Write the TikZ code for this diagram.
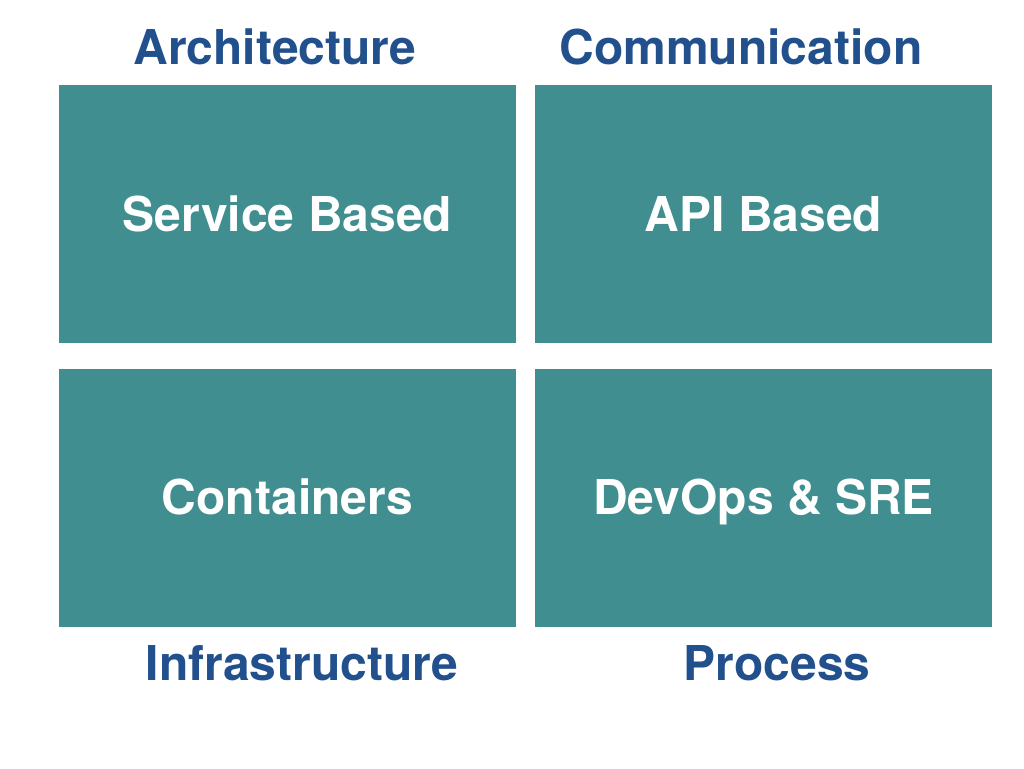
\documentclass[tikz,border=0pt]{standalone}
\usepackage{fontspec}
\setmainfont{TeX Gyre Heros}
\usetikzlibrary{positioning}

\definecolor{tealbox}{RGB}{64,142,143}
\definecolor{labelblue}{RGB}{33,80,141}

\tikzset{
  quadrant/.style={fill=tealbox,text=white,font=\fontsize{24}{28}\selectfont\bfseries,
    minimum width=228.5pt,minimum height=129pt,inner sep=0pt,
    text height=17.2pt,text depth=0pt},
  caption/.style={text=labelblue,font=\fontsize{24}{28}\selectfont\bfseries,inner sep=0pt,
    text height=17.2pt,text depth=0pt}
}

\begin{document}
\begin{tikzpicture}[x=0.5pt,y=-0.5pt]
  \useasboundingbox[fill=white] (0,0) rectangle (1024,768);

  % the four boxes
  \node[quadrant] (arch) at (287.5,214) {Service Based};
  \node[quadrant] (comm) at (763.5,214) {API Based};
  \node[quadrant] (infra) at (287.5,497.5) {Containers};
  \node[quadrant] (proc) at (763.5,497.5) {DevOps \& SRE};

  % captions round them
  \node[caption] (archlabel) at (275,47) {Architecture};
  \node[caption] (commlabel) at (741,47) {Communication};
  \node[caption] (infralabel) at (302,663) {Infrastructure};
  \node[caption] (proclabel) at (777,663) {Process};
\end{tikzpicture}
\end{document}
